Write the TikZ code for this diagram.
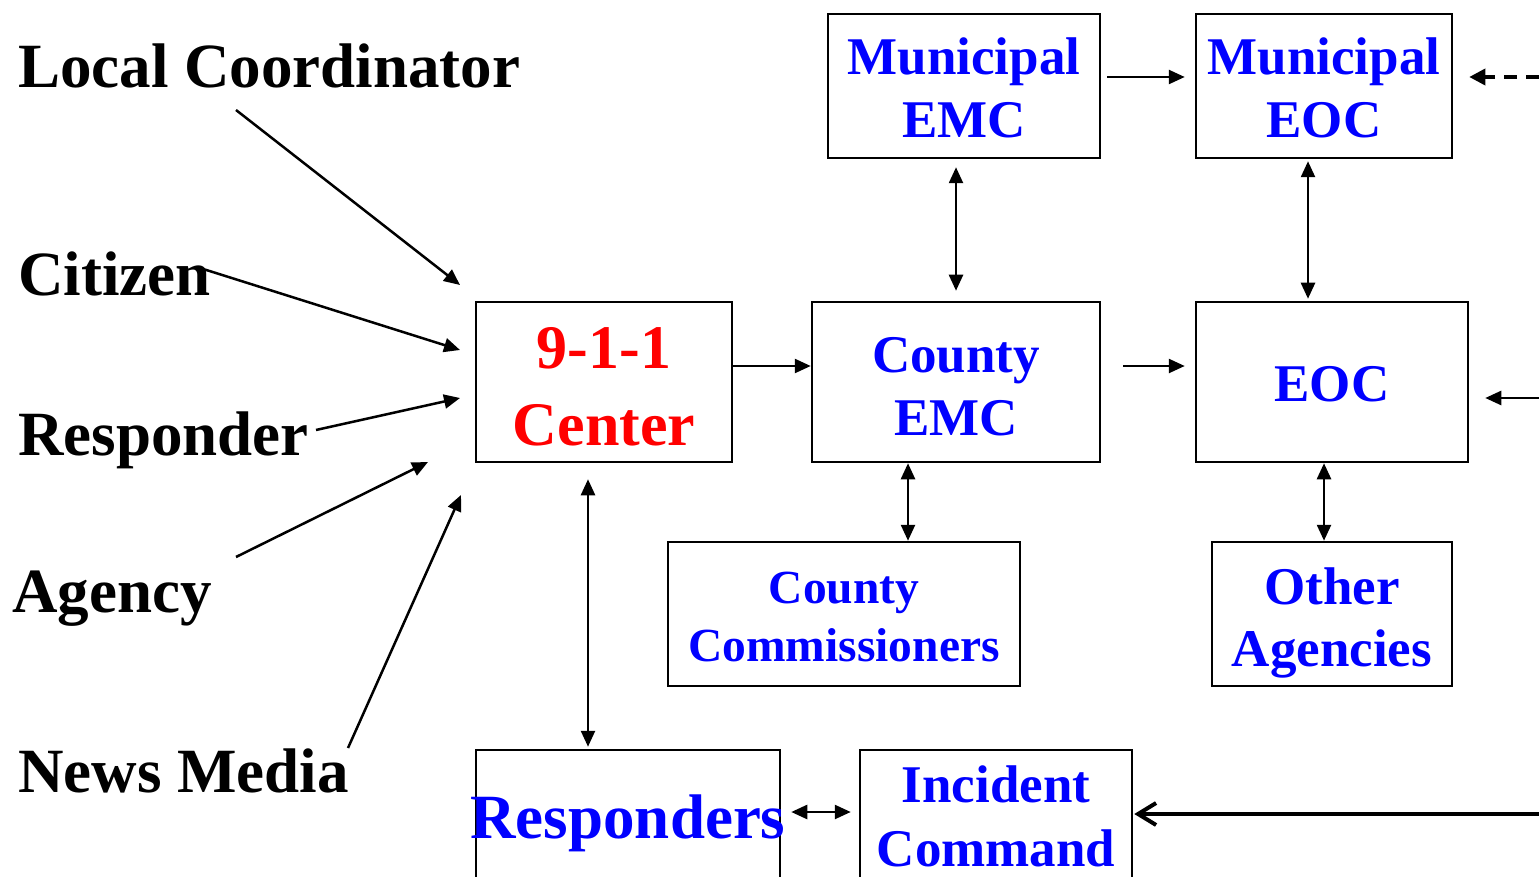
\documentclass[tikz,border=0pt]{standalone}
\usepackage{fontspec}
\setmainfont{Liberation Serif}
\usetikzlibrary{arrows.meta}
\definecolor{pblue}{RGB}{0,0,255}
\definecolor{pred}{RGB}{255,0,0}
\begin{document}
\begin{tikzpicture}[x=1pt,y=-1pt,
  box/.style={draw, line width=2.5pt, inner sep=0pt, align=center,
    font=\bfseries\fontsize{53}{63}\selectfont, text=pblue},
  lbl/.style={anchor=base west, inner sep=0pt, font=\bfseries\fontsize{63}{70}\selectfont},
  arr/.style={line width=2.5pt, -{Triangle[length=16pt,width=14pt]}},
  darr/.style={line width=2.5pt, {Triangle[length=16pt,width=14pt]}-{Triangle[length=16pt,width=14pt]}},
  barb/.style={line width=4pt, -{Straight Barb[length=18pt,width=22pt]}}
]
\useasboundingbox (0,0) rectangle (1539,877);

% boxes
\node[box, minimum width=272pt, minimum height=144pt] (memc) at (964,86) {\rule{0pt}{40pt}Municipal\\EMC};
\node[box, minimum width=256pt, minimum height=144pt] (meoc) at (1324,86) {\rule{0pt}{40pt}Municipal\\EOC};
\node[box, minimum width=256pt, minimum height=160pt, text=pred,
      font=\bfseries\fontsize{62}{77}\selectfont] (ctr) at (604,382) {\rule{0pt}{50pt}9-1-1\\Center};
\node[box, minimum width=288pt, minimum height=160pt] (cemc) at (956,382) {\rule{0pt}{44pt}County\\EMC};
\node[box, minimum width=272pt, minimum height=160pt] (eoc) at (1332,382) {\rule{0pt}{40pt}EOC};
\node[box, minimum width=352pt, minimum height=144pt,
      font=\bfseries\fontsize{47.5}{58}\selectfont] (ccom) at (844,614) {\rule{0pt}{38pt}County\\Commissioners};
\node[box, minimum width=240pt, minimum height=144pt,
      font=\bfseries\fontsize{53}{62}\selectfont] (oag) at (1332,614) {\rule{0pt}{54pt}Other\\Agencies};
\node[box, minimum width=304pt, minimum height=134pt,
      font=\bfseries\fontsize{63}{70}\selectfont] (resp) at (628,817) {\makebox[0pt]{\rule{0pt}{56pt}Responders}};
\node[box, minimum width=272pt, minimum height=132pt,
      font=\bfseries\fontsize{53}{64}\selectfont] (ic) at (996,816) {Incident\\Command};

% left labels
\node[lbl] (lc) at (18,88) {Local Coordinator};
\node[lbl] (cit) at (18,295) {Citizen};
\node[lbl] (rsp) at (18,455) {Responder};
\node[lbl] (ag) at (12,612) {Agency};
\node[lbl] (nm) at (18,792) {News Media};

% arrow end points
\coordinate (lcS) at (236,110);  \coordinate (lcE) at (460,285);
\coordinate (citS) at (200,268); \coordinate (citE) at (460,350);
\coordinate (rspS) at (316,430); \coordinate (rspE) at (460,398);
\coordinate (agS) at (236,557);  \coordinate (agE) at (428,462);
\coordinate (nmS) at (348,748);  \coordinate (nmE) at (461,495);
\coordinate (dS) at (1539,77);
\coordinate (rS) at (1539,398);
\coordinate (icS) at (1539,814);

% incoming arrows to 9-1-1
\draw[arr] (lcS) -- (lcE);
\draw[arr] (citS) -- (citE);
\draw[arr] (rspS) -- (rspE);
\draw[arr] (agS) -- (agE);
\draw[arr] (nmS) -- (nmE);

% horizontal flows
\draw[arr] ([yshift=16pt]ctr.east) -- ([yshift=16pt]cemc.west);
\draw[arr, shorten <=22pt, shorten >=10pt] ([yshift=16pt]cemc.east) -- ([yshift=16pt]eoc.west);
\draw[arr, shorten <=6pt, shorten >=10pt] ([yshift=9pt]memc.east) -- ([yshift=9pt]meoc.west);
\draw[line width=3.5pt, -{Triangle[length=16pt,width=16pt]}, dash pattern=on 13pt off 9pt, shorten >=16pt] (dS) -- (dS -| meoc.east);
\draw[arr, shorten >=16pt] (rS) -- (rS -| eoc.east);
\draw[barb, shorten >=1pt] (icS) -- (icS -| ic.east);

% vertical two-way arrows
\draw[darr, shorten <=8pt, shorten >=10pt] (cemc.north |- memc.south) -- (cemc.north);
\draw[darr, shorten <=2pt, shorten >=2pt] ([xshift=-16pt]meoc.south) -- ([xshift=-16pt]meoc.south |- eoc.north);
\draw[darr] ([xshift=-48pt]cemc.south) -- ([xshift=-48pt]cemc.south |- ccom.north);
\draw[darr] ([xshift=-8pt]eoc.south) -- ([xshift=-8pt]eoc.south |- oag.north);
\draw[darr, shorten <=16pt, shorten >=2pt] ([xshift=-16pt]ctr.south) -- ([xshift=-16pt]ctr.south |- resp.north);
\draw[darr, shorten <=10pt, shorten >=8pt] ([yshift=5pt]resp.east) -- ([yshift=5pt]resp.east -| ic.west);
\end{tikzpicture}
\end{document}
